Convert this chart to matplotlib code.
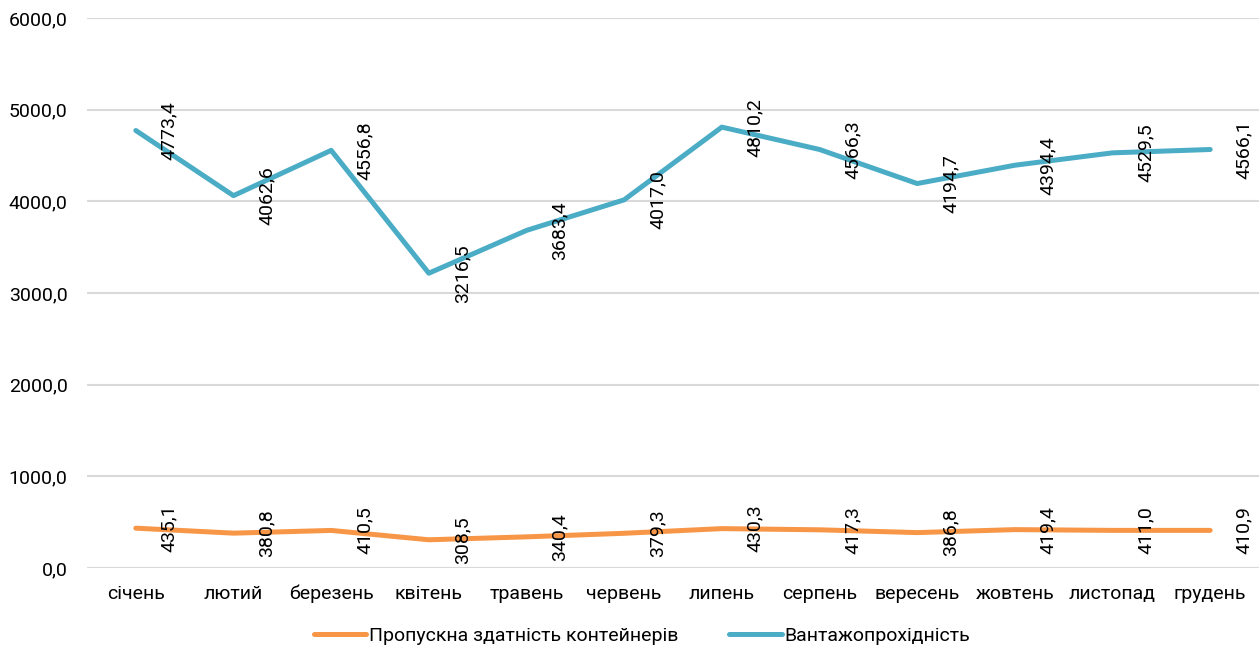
import numpy as np
import matplotlib.pyplot as plt

plt.rcParams['font.family'] = ['Roboto', 'DejaVu Sans']

misyatsi = ["січень", "лютий", "березень", "квітень", "травень", "червень",
            "липень", "серпень", "вересень", "жовтень", "листопад", "грудень"]
propuskna = [435.1, 380.8, 410.5, 308.5, 340.4, 379.3,
             430.3, 417.3, 386.8, 419.4, 411.0, 410.9]
vantazh = [4773.4, 4062.6, 4556.8, 3216.5, 3683.4, 4017.0,
           4810.2, 4566.3, 4194.7, 4394.4, 4529.5, 4566.1]
y_ticks = [0, 1000, 2000, 3000, 4000, 5000, 6000]

fig = plt.figure(figsize=(12.59, 6.59), dpi=100)
ax = fig.add_axes([0.0691, 0.138, 0.9309, 0.8346])

x = np.arange(len(misyatsi))
ax.plot(x, propuskna, color="#F79646", linewidth=3.6, solid_capstyle="round",
        solid_joinstyle="round", label="Пропускна здатність контейнерів")
ax.plot(x, vantazh, color="#4BACC6", linewidth=3.6, solid_capstyle="round",
        solid_joinstyle="round", label="Вантажопрохідність")

# підписи значень
for seria in (propuskna, vantazh):
    for xi, v in zip(x, seria):
        ax.annotate(f"{v:.1f}".replace(".", ","), (xi, v), xytext=(24, 0),
                    textcoords="offset points", rotation=90,
                    ha="center", va="center", fontsize=14, color="black")

ax.set_xlim(-0.5, len(misyatsi) - 0.5)
ax.set_ylim(0, 6000)
ax.set_yticks(y_ticks)
ax.set_yticklabels([f"{t:.1f}".replace(".", ",") for t in y_ticks])
ax.set_xticks(x)
ax.set_xticklabels(misyatsi)
ax.tick_params(axis="y", length=0, pad=14, labelsize=14)
ax.tick_params(axis="x", length=0, pad=12, labelsize=14)
ax.grid(axis="y", color="#D9D9D9", linewidth=1.5)
ax.set_axisbelow(True)
for s in ax.spines.values():
    s.set_visible(False)

fig.legend(loc="lower center", bbox_to_anchor=(0.51, -0.005), ncol=2,
           frameon=False, fontsize=14, handlelength=2.7, handletextpad=0.15,
           columnspacing=2.6)

plt.savefig("out.png", dpi=100)
